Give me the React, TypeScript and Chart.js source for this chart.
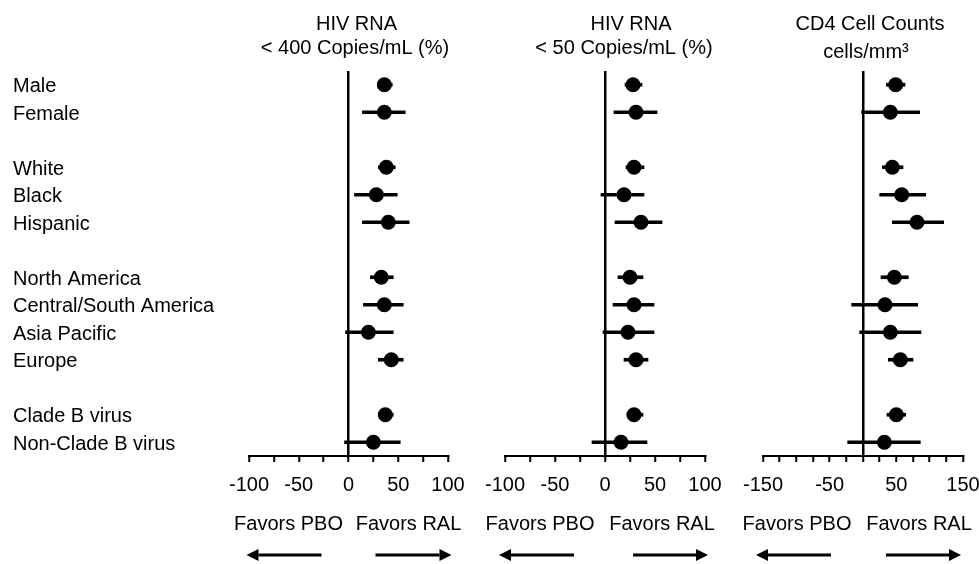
import React, { useEffect, useRef } from 'react';
import { Chart, registerables } from 'chart.js';

Chart.register(...registerables);

const FONT = "'Liberation Sans', Arial, Helvetica, sans-serif";
const W = 979;
const H = 564;
const PLOT_TOP = 71;
const PLOT_BOTTOM = 456;
const XAXIS_H = 50;
const LABEL_LEFT = 13;

// Subgroups, top to bottom; the skipped row slots give the blank gaps between blocks
const subgroupLabels = [
  'Male',
  'Female',
  'White',
  'Black',
  'Hispanic',
  'North America',
  'Central/South America',
  'Asia Pacific',
  'Europe',
  'Clade B virus',
  'Non-Clade B virus',
];
const subgroupRows = [0, 1, 3, 4, 5, 7, 8, 9, 10, 12, 13];

// Treatment difference (RAL - PBO) with 95% CI: HIV RNA < 400 copies/mL (%)
const rna400Diff = [36, 36, 38, 28, 40, 33, 36, 20, 43, 37, 25];
const rna400Low = [29, 14, 30, 6, 14, 22, 15, -3, 30, 30, -4];
const rna400High = [44, 57, 47, 49, 61, 45, 55, 45, 55, 45, 52];

// HIV RNA < 50 copies/mL (%)
const rna50Diff = [28, 31, 29, 19, 36, 25, 29, 23, 31, 29, 16];
const rna50Low = [20, 9, 21, -4, 10, 13, 8, -2, 19, 22, -13];
const rna50High = [37, 52, 39, 39, 57, 38, 49, 49, 43, 38, 42];

// CD4 cell count change (cells/mm³)
const cd4Diff = [49, 41, 44, 58, 81, 47, 33, 41, 56, 50, 32];
const cd4Low = [35, -2, 29, 25, 44, 27, -17, -5, 38, 36, -23];
const cd4High = [63, 85, 60, 94, 121, 68, 82, 87, 75, 64, 86];

// Axis ranges and which ticks carry a label
const rnaRange = [-100, 100];
const rnaTickLabels = [-100, -50, 0, 50, 100];
const cd4Range = [-150, 150];
const cd4TickLabels = [-150, -50, 50, 150];
const tickStep = 25;

type Panel = {
  key: string;
  title: string[];
  titleShift: number[];
  titleBaseline: number[];
  est: number[];
  low: number[];
  high: number[];
  range: number[];
  labelled: number[];
  left: number;
  right: number;
  rowLabels: boolean;
  favors: { pbo: number; ral: number; leftArrow: number[]; rightArrow: number[] };
};

const panels: Panel[] = [
  {
    key: 'rna400',
    title: ['HIV RNA', '< 400 Copies/mL (%)'],
    titleShift: [8, 6.5],
    titleBaseline: [30, 53.5],
    est: rna400Diff,
    low: rna400Low,
    high: rna400High,
    range: rnaRange,
    labelled: rnaTickLabels,
    left: 249,
    right: 448,
    rowLabels: true,
    favors: { pbo: -60, ral: 60, leftArrow: [-102, -27], rightArrow: [27, 103] },
  },
  {
    key: 'rna50',
    title: ['HIV RNA', '< 50 Copies/mL (%)'],
    titleShift: [26, 19],
    titleBaseline: [30, 53.5],
    est: rna50Diff,
    low: rna50Low,
    high: rna50High,
    range: rnaRange,
    labelled: rnaTickLabels,
    left: 505,
    right: 705,
    rowLabels: false,
    favors: { pbo: -65, ral: 57, leftArrow: [-106, -31], rightArrow: [28, 103] },
  },
  {
    key: 'cd4',
    title: ['CD4 Cell Counts', 'cells/mm³'],
    titleShift: [7, 3],
    titleBaseline: [30, 58],
    est: cd4Diff,
    low: cd4Low,
    high: cd4High,
    range: cd4Range,
    labelled: cd4TickLabels,
    left: 763,
    right: 963,
    rowLabels: false,
    favors: { pbo: -66, ral: 56, leftArrow: [-107, -32], rightArrow: [23, 98] },
  },
];

function drawArrow(ctx: CanvasRenderingContext2D, fromX: number, toX: number, y: number) {
  const dir = Math.sign(toX - fromX);
  const head = 12;
  ctx.beginPath();
  ctx.lineWidth = 3;
  ctx.strokeStyle = '#000';
  ctx.moveTo(fromX, y);
  ctx.lineTo(toX - dir * head, y);
  ctx.stroke();
  ctx.beginPath();
  ctx.moveTo(toX, y);
  ctx.lineTo(toX - dir * head, y - 6);
  ctx.lineTo(toX - dir * head, y + 6);
  ctx.closePath();
  ctx.fill();
}

// Panel heading plus the "Favors" captions and arrows under the axis
const panelDecor = (p: Panel) => ({
  id: 'panelDecor',
  afterDraw(chart: any) {
    const { ctx, chartArea, scales } = chart;
    const zero = scales.x.getPixelForValue(0);
    const mid = (chartArea.left + chartArea.right) / 2;
    ctx.save();
    ctx.fillStyle = '#000';
    ctx.font = `20px ${FONT}`;
    ctx.textAlign = 'center';
    ctx.textBaseline = 'alphabetic';
    p.title.forEach((line, i) => ctx.fillText(line, mid + p.titleShift[i], p.titleBaseline[i]));
    ctx.fillText('Favors PBO', zero + p.favors.pbo, 530);
    ctx.fillText('Favors RAL', zero + p.favors.ral, 530);
    drawArrow(ctx, zero + p.favors.leftArrow[1], zero + p.favors.leftArrow[0], 555);
    drawArrow(ctx, zero + p.favors.rightArrow[0], zero + p.favors.rightArrow[1], 555);
    ctx.restore();
  },
});

function ForestPanel({ panel }: { panel: Panel }) {
  const ref = useRef<HTMLCanvasElement>(null);

  useEffect(() => {
    const canvas = ref.current;
    if (!canvas) return;
    const font = { family: FONT, size: 20 };
    const chart = new Chart(canvas, {
      type: 'bar',
      data: {
        datasets: [
          {
            type: 'scatter',
            data: subgroupRows.map((r, i) => ({ x: panel.est[i], y: r })),
            pointRadius: 7.5,
            pointHoverRadius: 7.5,
            backgroundColor: '#000',
            borderWidth: 0,
          } as any,
          {
            type: 'bar',
            indexAxis: 'y',
            data: subgroupRows.map((r, i) => ({ y: r, x: [panel.low[i], panel.high[i]] })),
            backgroundColor: '#000',
            borderWidth: 0,
            barThickness: 3,
          } as any,
        ],
      },
      options: {
        indexAxis: 'y',
        responsive: false,
        animation: false,
        events: [],
        layout: {
          padding: {
            top: PLOT_TOP,
            bottom: H - PLOT_BOTTOM - XAXIS_H,
            left: panel.rowLabels ? LABEL_LEFT : panel.left,
            right: W - panel.right,
          },
        },
        plugins: {
          legend: { display: false },
          tooltip: { enabled: false },
          title: { display: false },
        },
        scales: {
          x: {
            type: 'linear',
            min: panel.range[0],
            max: panel.range[1],
            offset: false,
            ticks: {
              stepSize: tickStep,
              autoSkip: false,
              maxRotation: 0,
              color: '#000',
              font,
              padding: 11,
              callback: (v: any) => (panel.labelled.includes(Number(v)) ? String(v) : ''),
            },
            grid: {
              offset: false,
              color: (c: any) => (c.tick && c.tick.value === 0 ? '#000' : 'rgba(0,0,0,0)'),
              lineWidth: 2.5,
              tickColor: '#000',
              tickWidth: 2,
              tickLength: 6,
            },
            border: { display: true, color: '#000', width: 2 },
            afterFit: (s: any) => {
              s.height = XAXIS_H;
              s.paddingLeft = 0;
              s.paddingRight = 0;
            },
          },
          y: {
            type: 'linear',
            display: panel.rowLabels,
            min: -0.5,
            max: 13.5,
            reverse: true,
            offset: false,
            afterBuildTicks: (s: any) => {
              s.ticks = subgroupRows.map((v) => ({ value: v }));
            },
            ticks: {
              autoSkip: false,
              crossAlign: 'far',
              padding: 0,
              labelOffset: 2,
              color: '#000',
              font,
              callback: (v: any) => subgroupLabels[subgroupRows.indexOf(Number(v))] ?? '',
            },
            grid: { display: false },
            border: { display: false },
            afterFit: (s: any) => {
              s.width = panel.rowLabels ? panel.left - LABEL_LEFT : 0;
              s.paddingTop = 0;
              s.paddingBottom = 0;
            },
          },
        },
      } as any,
      plugins: [panelDecor(panel)],
    });
    return () => chart.destroy();
  }, [panel]);

  return (
    <canvas
      ref={ref}
      width={W}
      height={H}
      style={{ position: 'absolute', left: 0, top: 0, width: W, height: H }}
    />
  );
}

export default function App() {
  return (
    <div style={{ position: 'absolute', left: 0, top: 0, width: W, height: H, background: '#fff' }}>
      {panels.map((p) => (
        <ForestPanel key={p.key} panel={p} />
      ))}
    </div>
  );
}
